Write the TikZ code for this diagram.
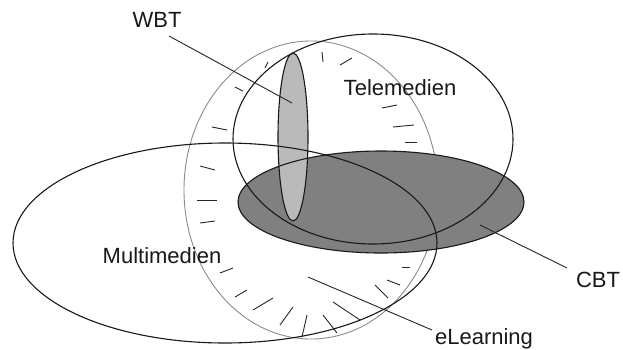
\documentclass[tikz,border=0pt]{standalone}
\usepackage{fontspec}
\setmainfont{Liberation Sans}
\tikzset{
  lbl/.style={font=\fontsize{22}{24}\selectfont, anchor=base, inner sep=0pt, text=black!90},
  blackline/.style={draw=black!90, line width=1.1pt},
  grayline/.style={draw=black!45, line width=0.9pt},
  tick/.style={draw=black!85, line width=0.9pt},
  leader/.style={draw=black!85, line width=0.9pt},
}
\begin{document}
\begin{tikzpicture}[x=1pt,y=-1pt]
\useasboundingbox (0,0) rectangle (623,349);
\fill[white] (0,0) rectangle (623,349);
% eLearning (gray) ellipse and its ticks
\draw[grayline] (311,190) ellipse [x radius=127pt, y radius=149pt];
\foreach \a/\b in {
  {(265,68)}/{(268,62)},
  {(322,52)}/{(323,62)},
  {(340,65)}/{(352,58)},
  {(235,87)}/{(243,91)},
  {(212,127)}/{(227,130)},
  {(382,108)}/{(397,105)},
  {(393,127)}/{(414,125)},
  {(405,142)}/{(417,142)},
  {(200,166)}/{(215,170)},
  {(197,200)}/{(217,200)},
  {(200,223)}/{(215,221)},
  {(220,273)}/{(233,268)},
  {(235,297)}/{(247,290)},
  {(253,310)}/{(273,298)},
  {(280,325)}/{(293,307)},
  {(302,337)}/{(307,315)},
  {(323,315)}/{(337,333)},
  {(333,302)}/{(360,320)},
  {(375,285)}/{(388,298)},
  {(387,280)}/{(400,285)},
  {(402,267)}/{(410,267)}}
  \draw[tick] \a -- \b;
% fills
\fill[black!50] (381,202) ellipse [x radius=143pt, y radius=51pt];
\fill[black!27] (293,137) ellipse [x radius=15pt, y radius=84pt];
% outlines
\draw[blackline] (373,139) ellipse [x radius=140pt, y radius=105pt];
\draw[blackline] (225,243) ellipse [x radius=212pt, y radius=100pt];
\draw[blackline] (381,202) ellipse [x radius=143pt, y radius=51pt];
\draw[blackline] (293,137) ellipse [x radius=15pt, y radius=84pt];
% labels
\node[lbl] (wbt) at (157,27) {WBT};
\node[lbl] (tele) at (400,95) {Telemedien};
\node[lbl] (multi) at (162,263) {Multimedien};
\node[lbl] (cbt) at (598,287) {CBT};
\node[lbl] (elearn) at (484,344) {eLearning};
% leader lines
\coordinate (wbtA) at (169,36);
\coordinate (wbtB) at (292,103);
\coordinate (cbtA) at (567,268);
\coordinate (cbtB) at (480,225);
\coordinate (elA) at (432,330);
\coordinate (elB) at (308,277);
\draw[leader] (wbtA) -- (wbtB);
\draw[leader] (cbtA) -- (cbtB);
\draw[leader] (elA) -- (elB);
\end{tikzpicture}
\end{document}
